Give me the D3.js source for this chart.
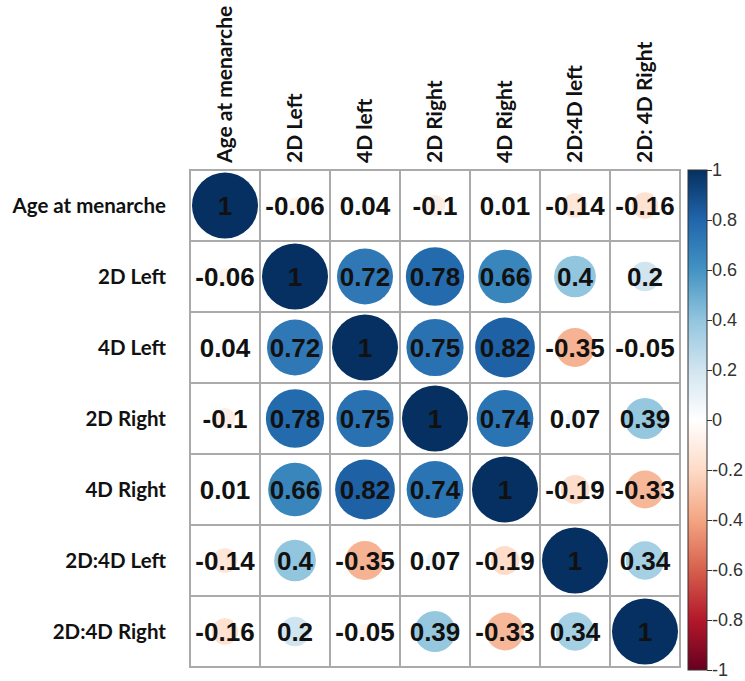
<!DOCTYPE html>
<html>
<head>
<meta charset="utf-8">
<script src="https://cdn.jsdelivr.net/npm/d3@7"></script>
<style>
  body { margin: 0; background: #fff; }
  svg { display: block; }
</style>
</head>
<body>
<script>
var rowNames = ["Age at menarche", "2D Left", "4D Left", "2D Right", "4D Right", "2D:4D Left", "2D:4D Right"];
var colNames = ["Age at menarche", "2D Left", "4D left", "2D Right", "4D Right", "2D:4D left", "2D: 4D Right"];

var r1 = [1, -0.06, 0.04, -0.1, 0.01, -0.14, -0.16];
var r2 = [-0.06, 1, 0.72, 0.78, 0.66, 0.4, 0.2];
var r3 = [0.04, 0.72, 1, 0.75, 0.82, -0.35, -0.05];
var r4 = [-0.1, 0.78, 0.75, 1, 0.74, 0.07, 0.39];
var r5 = [0.01, 0.66, 0.82, 0.74, 1, -0.19, -0.33];
var r6 = [-0.14, 0.4, -0.35, 0.07, -0.19, 1, 0.34];
var r7 = [-0.16, 0.2, -0.05, 0.39, -0.33, 0.34, 1];
var matrix = [r1, r2, r3, r4, r5, r6, r7];

var legendTicks = [1, 0.8, 0.6, 0.4, 0.2, 0, -0.2, -0.4, -0.6, -0.8, -1];

// corrplot RdBu palette, from -1 to 1
var palette = ["#67001F", "#B2182B", "#D6604D", "#F4A582", "#FDDBC7", "#FFFFFF",
               "#D1E5F0", "#92C5DE", "#4393C3", "#2166AC", "#053061"];

var width = 745, height = 681;
var gridLeft = 190, gridTop = 170, cellW = 70, cellH = 71;

var color = d3.scaleLinear()
  .domain(d3.range(palette.length).map(function(i) { return -1 + i * 0.2; }))
  .range(palette);

var x = d3.scaleBand().domain(d3.range(colNames.length)).range([gridLeft, gridLeft + cellW * 7]);
var y = d3.scaleBand().domain(d3.range(rowNames.length)).range([gridTop, gridTop + cellH * 7]);
var rad = d3.scaleSqrt().domain([0, 1]).range([0, 33]);

var svg = d3.select("body").append("svg")
  .attr("width", width)
  .attr("height", height);

// cells
var cells = [];
matrix.forEach(function(row, i) {
  row.forEach(function(v, j) { cells.push({i: i, j: j, v: v}); });
});

svg.append("g").selectAll("rect")
  .data(cells)
  .enter().append("rect")
  .attr("x", d => x(d.j))
  .attr("y", d => y(d.i))
  .attr("width", x.bandwidth())
  .attr("height", y.bandwidth())
  .attr("fill", "#fff")
  .attr("stroke", "#aaaaaa")
  .attr("stroke-width", 2);

svg.append("g").selectAll("circle")
  .data(cells)
  .enter().append("circle")
  .attr("cx", d => x(d.j) + x.bandwidth() / 2)
  .attr("cy", d => y(d.i) + y.bandwidth() / 2)
  .attr("r", d => rad(Math.abs(d.v)))
  .attr("fill", d => color(d.v));

svg.append("g").selectAll("text")
  .data(cells)
  .enter().append("text")
  .attr("x", d => x(d.j) + x.bandwidth() / 2)
  .attr("y", d => y(d.i) + y.bandwidth() / 2)
  .attr("dy", "0.36em")
  .attr("text-anchor", "middle")
  .style("font-family", "'Liberation Sans', Arial, sans-serif")
  .style("font-weight", "bold")
  .style("font-size", "26px")
  .attr("fill", "#111")
  .text(d => d.v);

// row labels
svg.append("g").selectAll("text")
  .data(rowNames)
  .enter().append("text")
  .attr("x", gridLeft - 24)
  .attr("y", (d, i) => y(i) + y.bandwidth() / 2)
  .attr("dy", "0.35em")
  .attr("text-anchor", "end")
  .style("font-family", "Lato, sans-serif")
  .style("font-weight", "bold")
  .style("font-size", "20.5px")
  .attr("fill", "#111")
  .text(d => d);

// column labels
svg.append("g").selectAll("text")
  .data(colNames)
  .enter().append("text")
  .attr("transform", (d, i) => "translate(" + (x(i) + x.bandwidth() / 2) + "," + (gridTop - 7) + ") rotate(-90)")
  .attr("dy", "0.35em")
  .attr("text-anchor", "start")
  .style("font-family", "Lato, sans-serif")
  .style("font-weight", "bold")
  .style("font-size", "21px")
  .attr("fill", "#111")
  .text(d => d);

// colour legend
var barX = 688, barW = 19, barTop = 170, barBottom = 670;
var ly = d3.scaleLinear().domain([1, -1]).range([barTop, barBottom]);

var grad = svg.append("defs").append("linearGradient")
  .attr("id", "legendGrad")
  .attr("x1", 0).attr("y1", 0).attr("x2", 0).attr("y2", 1);
grad.selectAll("stop")
  .data(palette.slice().reverse())
  .enter().append("stop")
  .attr("offset", (d, i) => (i / (palette.length - 1) * 100) + "%")
  .attr("stop-color", d => d);

svg.append("rect")
  .attr("x", barX)
  .attr("y", barTop)
  .attr("width", barW)
  .attr("height", barBottom - barTop)
  .attr("fill", "url(#legendGrad)")
  .attr("stroke", "#333")
  .attr("stroke-width", 1);

var axis = d3.axisRight(ly)
  .tickValues(legendTicks)
  .tickSize(5)
  .tickPadding(0)
  .tickFormat(d => d === 0 ? "0" : String(d));

var ax = svg.append("g")
  .attr("transform", "translate(" + (barX + barW) + ",0)")
  .call(axis);
ax.select(".domain").remove();
ax.selectAll("line").attr("stroke", "#333");
ax.selectAll("text")
  .style("font-family", "'Liberation Sans', Arial, sans-serif")
  .style("font-size", "18px")
  .attr("fill", "#333");
</script>
</body>
</html>
